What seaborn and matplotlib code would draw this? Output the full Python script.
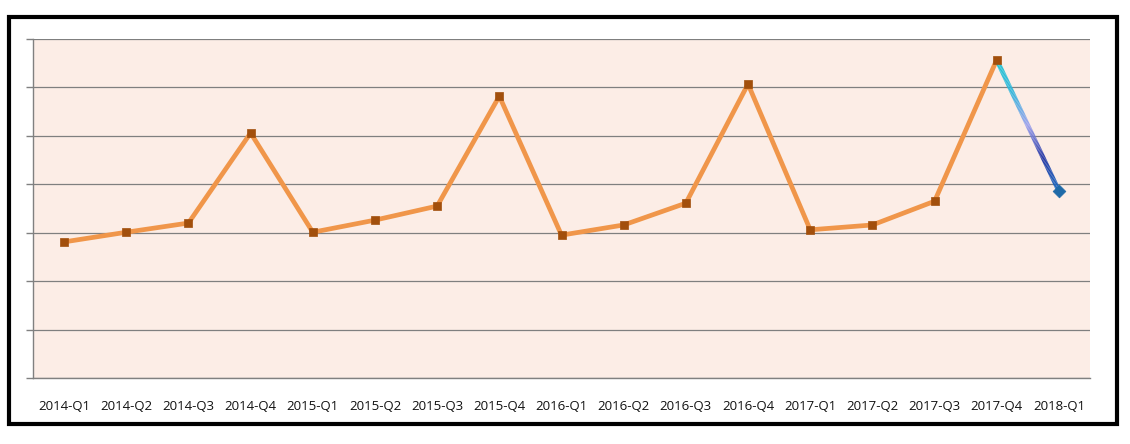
import matplotlib
matplotlib.use("Agg")
import matplotlib.pyplot as plt
import numpy as np
import pandas as pd
import seaborn as sns
from matplotlib.collections import LineCollection
from matplotlib.colors import LinearSegmentedColormap
from matplotlib.patches import Rectangle
from matplotlib.ticker import FixedLocator, NullFormatter

quarters = [
    "2014-Q1", "2014-Q2", "2014-Q3", "2014-Q4",
    "2015-Q1", "2015-Q2", "2015-Q3", "2015-Q4",
    "2016-Q1", "2016-Q2", "2016-Q3", "2016-Q4",
    "2017-Q1", "2017-Q2", "2017-Q3", "2017-Q4",
    "2018-Q1",
]
values = [
    2.81, 3.01, 3.20, 5.06,
    3.01, 3.26, 3.55, 5.82,
    2.95, 3.16, 3.61, 6.07,
    3.06, 3.16, 3.65, 6.57,
    3.86,
]
n_actual = 16  # last point is the forecast

sns.set_style("white")
plt.rcParams["font.family"] = ["Open Sans", "DejaVu Sans"]

df = pd.DataFrame({"quarter": quarters, "value": values})
df["pos"] = np.arange(len(df))
actual = df.iloc[:n_actual]
forecast = df.iloc[n_actual - 1:]

fig = plt.figure(figsize=(11.3, 4.44), dpi=100)
ax = fig.add_axes([33 / 1130, 66 / 444, 1057 / 1130, 339 / 444])
ax.set_facecolor("#fcede6")

sns.lineplot(data=actual, x="pos", y="value", ax=ax, color="#f0964a",
             linewidth=3.4, zorder=3)
sns.scatterplot(data=actual, x="pos", y="value", ax=ax, marker="s",
                color="#a24f0c", s=38, edgecolor="#a24f0c", zorder=5)

# forecast segment drawn with a colour gradient
cmap = LinearSegmentedColormap.from_list(
    "fc", ["#1fc6d4", "#34b6dc", "#9ea2ee", "#2436a4", "#1a6cc2"])
t = np.linspace(0, 1, 120)
fx = forecast["pos"].iloc[0] + t * (forecast["pos"].iloc[1] - forecast["pos"].iloc[0])
fy = forecast["value"].iloc[0] + t * (forecast["value"].iloc[1] - forecast["value"].iloc[0])
pts = np.column_stack([fx, fy]).reshape(-1, 1, 2)
segs = np.concatenate([pts[:-1], pts[1:]], axis=1)
lc = LineCollection(segs, cmap=cmap, linewidth=3.4, zorder=4, capstyle="butt")
lc.set_array(t[:-1])
ax.add_collection(lc)
sns.scatterplot(data=forecast.iloc[1:], x="pos", y="value", ax=ax, marker="D",
                color="#1f6aa8", s=42, edgecolor="#1f6aa8", zorder=5)

ax.set_xlim(-0.5, len(quarters) - 0.5)
ax.set_ylim(0, 7)
ax.set_xticks(df["pos"])
ax.set_xticklabels(quarters, fontsize=9.5, color="#111111")
ax.xaxis.set_minor_locator(FixedLocator(np.arange(len(quarters) + 1) - 0.5))
ax.tick_params(axis="x", which="major", length=0, pad=16)
ax.tick_params(axis="x", which="minor", length=5, color="#808080", width=1)
ax.set_yticks(np.arange(0, 8))
ax.yaxis.set_major_formatter(NullFormatter())
ax.tick_params(axis="y", length=5, color="#808080", width=1, left=True)
ax.grid(axis="y", color="#7f7f7f", linewidth=0.9)
ax.set_axisbelow(True)
ax.set_xlabel("")
ax.set_ylabel("")
for side in ["top", "right"]:
    ax.spines[side].set_visible(False)
for side in ["left", "bottom"]:
    ax.spines[side].set_color("#808080")
    ax.spines[side].set_linewidth(1)

fig.patches.append(Rectangle((9 / 1130, 20 / 444), 1108 / 1130, 407 / 444,
                             transform=fig.transFigure, fill=False,
                             edgecolor="black", linewidth=3, zorder=10))

fig.savefig("out.png", dpi=100)
